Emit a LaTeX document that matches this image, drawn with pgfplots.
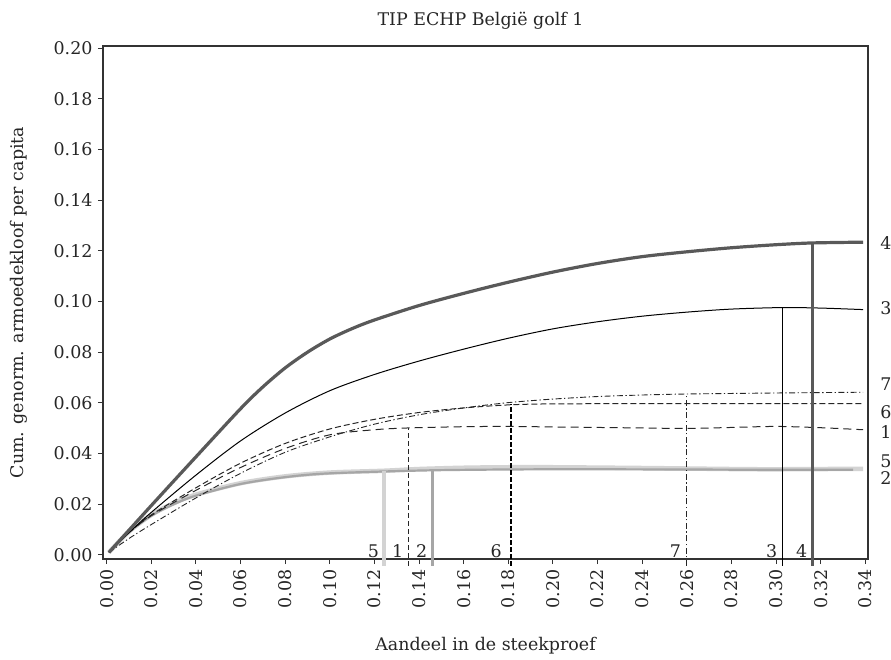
\documentclass[border=0pt]{standalone}
\usepackage{fontspec}
\setmainfont{DejaVu Serif}
\usepackage{pgfplots}
\pgfplotsset{compat=1.18}
\definecolor{cfour}{HTML}{595959}
\definecolor{cfive}{HTML}{D3D3D3}
\definecolor{ctwo}{HTML}{A6A6A6}
\definecolor{caxis}{HTML}{333333}
\newcommand\f{\fontsize{17.5}{21}\selectfont}
\begin{document}
\begin{tikzpicture}[font=\f]
\begin{axis}[
  scale only axis, width=765bp, height=513bp,
  xmin=-0.00166, xmax=0.3412, ymin=-0.0016, ymax=0.2008,
  axis line style={caxis, line width=1.2bp},
  tick style={caxis, line width=1bp},
  major tick length=5bp,
  tick align=outside,
  xtick pos=bottom, ytick pos=left,
  xtick={0,0.02,...,0.341}, ytick={0,0.02,...,0.201},
  /pgf/number format/assume math mode=true,
  /pgf/number format/.cd, fixed, fixed zerofill, precision=2, /pgfplots/.cd,
  ticklabel style={font=\f, text=black!85},
  xticklabel style={rotate=90, anchor=east, xshift=-2bp},
  yticklabel style={xshift=-2bp},
  clip=false,
]
% curve 5 (light gray, thick)
\addplot[cfive, line width=4.5bp, smooth] table {
0.001 0.001
0.01 0.0092
0.02 0.0158
0.03 0.0204
0.04 0.0238
0.06 0.0283
0.08 0.0310
0.10 0.0325
0.124 0.0332
0.14 0.0339
0.16 0.0344
0.18 0.0346
0.20 0.0346
0.24 0.0343
0.28 0.0339
0.30 0.0338
0.339 0.0340
};
% curve 2 (mid gray)
\addplot[ctwo, line width=2.2bp, smooth] table {
0.001 0.001
0.01 0.0090
0.02 0.0155
0.03 0.0200
0.04 0.0234
0.06 0.0280
0.08 0.0307
0.10 0.0322
0.146 0.0334
0.20 0.0338
0.26 0.0337
0.30 0.0336
0.3345 0.0336
};
% curve 1 (dashed)
\addplot[black!85, line width=1bp, dash pattern=on 8bp off 5bp, smooth] table {
0.001 0.001
0.01 0.0088
0.02 0.0155
0.04 0.0255
0.06 0.0345
0.08 0.0420
0.10 0.0474
0.12 0.0494
0.135 0.0501
0.16 0.0506
0.18 0.0507
0.20 0.0505
0.24 0.0501
0.26 0.0499
0.28 0.0503
0.30 0.0507
0.32 0.0502
0.339 0.0494
};
% curve 6 (dashed, shorter)
\addplot[black!85, line width=1bp, dash pattern=on 6bp off 3bp, smooth] table {
0.001 0.001
0.01 0.0088
0.02 0.0158
0.04 0.0265
0.06 0.0362
0.08 0.0440
0.10 0.0497
0.12 0.0535
0.14 0.0562
0.16 0.0580
0.18 0.0592
0.20 0.0596
0.25 0.0597
0.30 0.0597
0.339 0.0597
};
% curve 7 (dash-dot)
\addplot[black!85, line width=0.9bp, dash pattern=on 6bp off 2.5bp on 1.3bp off 2.5bp, smooth] table {
0.001 0.001
0.01 0.0065
0.02 0.0120
0.04 0.0225
0.06 0.0322
0.08 0.0405
0.10 0.0466
0.12 0.0516
0.14 0.0553
0.16 0.0580
0.18 0.0601
0.20 0.0615
0.22 0.0625
0.24 0.0631
0.26 0.0635
0.30 0.0639
0.339 0.0642
};
% curve 3 (thin solid)
\addplot[black, line width=1bp, smooth] table {
0.001 0.001
0.01 0.0088
0.02 0.0168
0.04 0.0315
0.06 0.0450
0.08 0.0560
0.10 0.0648
0.12 0.0712
0.14 0.0765
0.16 0.0812
0.18 0.0855
0.20 0.0892
0.22 0.0920
0.24 0.0942
0.26 0.0958
0.28 0.0970
0.3028 0.0976
0.32 0.0974
0.339 0.0968
};
% curve 4 (thick dark gray)
\addplot[cfour, line width=3.2bp, smooth] table {
0.001 0.001
0.02 0.0195
0.04 0.0387
0.06 0.0577
0.07 0.0663
0.08 0.0738
0.09 0.0800
0.10 0.0852
0.11 0.0893
0.12 0.0927
0.14 0.0984
0.16 0.1032
0.18 0.1076
0.20 0.1116
0.22 0.1150
0.24 0.1177
0.26 0.1196
0.28 0.1212
0.30 0.1224
0.3163 0.1231
0.339 0.1234
};
% vertical lines
\addplot[cfive, line width=3.5bp] coordinates {(0.1243,-0.0043) (0.1243,0.0332)};
\addplot[black!85, line width=1bp, dash pattern=on 5bp off 3bp] coordinates {(0.1352,-0.0043) (0.1352,0.0501)};
\addplot[ctwo, line width=3bp] coordinates {(0.1460,-0.0043) (0.1460,0.0334)};
\addplot[black, line width=1.8bp, dash pattern=on 5bp off 2bp] coordinates {(0.1812,-0.0043) (0.1812,0.0596)};
\addplot[black!85, line width=0.9bp, dash pattern=on 6bp off 2.5bp on 1.3bp off 2.5bp] coordinates {(0.2597,-0.0043) (0.2597,0.0636)};
\addplot[black, line width=1bp] coordinates {(0.3028,-0.0043) (0.3028,0.0976)};
\addplot[cfour, line width=3bp] coordinates {(0.3163,-0.0043) (0.3163,0.1231)};
% bottom labels
\begin{scope}[every node/.style={anchor=base east, inner sep=0pt, text=black!85, font=\f}]
\node at ([xshift=-5bp, yshift=-2.5bp]axis cs:0.1243,0) {5};
\node at ([xshift=-5bp, yshift=-2.5bp]axis cs:0.1352,0) {1};
\node at ([xshift=-5bp, yshift=-2.5bp]axis cs:0.1460,0) {2};
\node at ([xshift=-9bp, yshift=-2.5bp]axis cs:0.1812,0) {6};
\node at ([xshift=-5bp, yshift=-2.5bp]axis cs:0.2597,0) {7};
\node at ([xshift=-5bp, yshift=-2.5bp]axis cs:0.3028,0) {3};
\node at ([xshift=-5bp, yshift=-2.5bp]axis cs:0.3163,0) {4};
\end{scope}
% right labels
\begin{scope}[every node/.style={anchor=base west, inner sep=0pt, text=black!85, font=\f}]
\node at (axis cs:0.3466,0.1207) {4};
\node at (axis cs:0.3466,0.0950) {3};
\node at (axis cs:0.3466,0.0650) {7};
\node at (axis cs:0.3466,0.0540) {6};
\node at (axis cs:0.3466,0.0461) {1};
\node at (axis cs:0.3466,0.0344) {5};
\node at (axis cs:0.3466,0.0277) {2};
\end{scope}
% title and axis labels
\node[anchor=base, inner sep=0pt, text=black!85] at ([xshift=-5bp, yshift=20bp]rel axis cs:0.5,1) {TIP ECHP België golf 1};
\node[anchor=base, inner sep=0pt, text=black!85] at ([yshift=-91bp]rel axis cs:0.5,0) {Aandeel in de steekproef};
\node[anchor=base, rotate=90, inner sep=0pt, text=black!85] at ([xshift=-79bp]rel axis cs:0,0.5) {Cum. genorm. armoedekloof per capita};
\end{axis}
\pgfresetboundingbox
\path (current axis.south west) ++(-103bp,-101bp) rectangle ++(891bp,660bp);
\end{tikzpicture}
\end{document}
